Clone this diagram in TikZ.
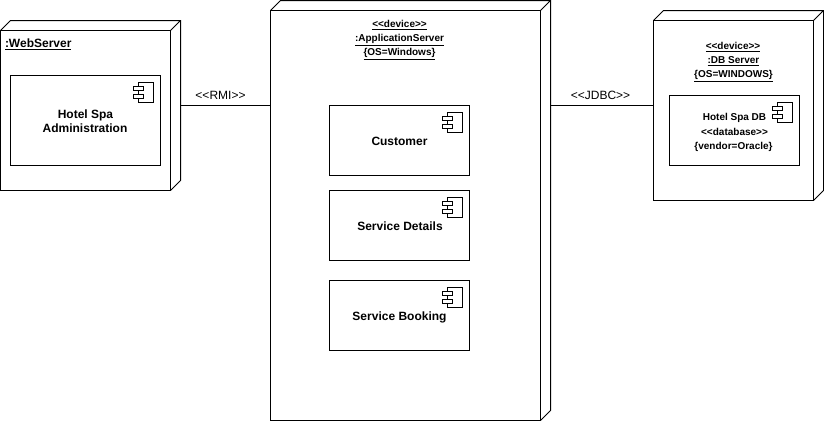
\documentclass[tikz,border=0pt]{standalone}
\usepackage{fontspec}
\setmainfont{Liberation Sans}
\newcommand{\gl}{<{}<}
\newcommand{\gr}{>{}>}
\tikzset{
  x=0.75pt,y=-0.75pt,
  every path/.style={line width=0.75pt},
  nodebox/.style={draw,fill=white,rectangle,inner sep=0pt,outer sep=0pt,line join=miter},
  compbox/.style={draw,rectangle,inner sep=0pt,outer sep=0pt},
  txt/.style={inner sep=0pt,outer sep=0pt,anchor=base,align=center,text=black},
  title/.style={txt,font=\fontsize{9}{12}\selectfont\bfseries},
  note/.style={txt,font=\fontsize{7.5}{9}\selectfont\bfseries},
  link/.style={txt,font=\fontsize{9}{12}\selectfont},
  pics/depth/.style args={#1/#2}{code={
    \draw (0,0) -- ++(10,-10) -- ++(#1,0) -- ++(0,#2) -- ++(-10,10)
          (#1,0) -- ++(10,-10);
  }},
  pics/icon/.style={code={
    \draw (5,0) rectangle (20,20);
    \draw[fill=white] (0,4) rectangle (10,8);
    \draw[fill=white] (0,12) rectangle (10,16);
  }}
}
\begin{document}
\begin{tikzpicture}
\useasboundingbox (0,0) rectangle (824,421);
\begin{scope}[shift={(-0.5,0.5)}]
% Web server
\node[nodebox,minimum width=127.5pt,minimum height=120pt] (web) at (86,110) {};
\pic at (1,30) {depth=170/160};
\node[compbox,minimum width=112.5pt,minimum height=67.5pt] (webc) at (86,120) {};
\pic at (134,82) {icon};
% Application server
\node[nodebox,minimum width=202.5pt,minimum height=307.5pt] (app) at (406,215) {};
\pic at (271,10) {depth=270/410};
\node[compbox,minimum width=105pt,minimum height=52.5pt] (cust) at (400,140) {};
\pic at (443,112) {icon};
\node[compbox,minimum width=105pt,minimum height=52.5pt] (serv) at (400,225) {};
\pic at (443,197) {icon};
\node[compbox,minimum width=105pt,minimum height=52.5pt] (book) at (400,315) {};
\pic at (443,287) {icon};
% DB server
\node[nodebox,minimum width=120pt,minimum height=135pt] (db) at (734,110) {};
\pic at (654,20) {depth=160/180};
\node[compbox,minimum width=97.5pt,minimum height=52.5pt] (dbc) at (735,130) {};
\pic at (773,102) {icon};
% Connectors
\coordinate (webport) at (181,105);
\coordinate (appport) at (551,105);
\draw (webport) -- (webport -| app.west);
\draw (appport) -- (appport -| db.west);
\end{scope}
% Texts
\node[title,anchor=base west] (webname) at (5,47) {\underline{:WebServer}};
\node[title] (webl1) at (85.5,118) {Hotel Spa};
\node[title] (webl2) at (85,132) {Administration};
\node[note] (appl1) at (399.5,27) {\underline{\gl device\gr}};
\node[note] (appl2) at (399.5,41) {\underline{:ApplicationServer}};
\node[note] (appl3) at (399.5,55) {\underline{\{OS=Windows\}}};
\node[title] (custl) at (399.5,145) {Customer};
\node[title] (servl) at (400,230) {Service Details};
\node[title] (bookl) at (399.5,320) {Service Booking};
\node[note] (dbl1) at (733,49) {\underline{\gl device\gr}};
\node[note] (dbl2) at (733.5,63) {\underline{:DB Server}};
\node[note] (dbl3) at (733.5,77) {\underline{\{OS=WINDOWS\}}};
\node[note] (dbc1) at (734.5,120) {Hotel Spa DB};
\node[note] (dbc2) at (734.5,135) {\gl database\gr};
\node[note] (dbc3) at (733.5,149) {\{vendor=Oracle\}};
\node[link] (rmi) at (220.5,99) {\gl RMI\gr};
\node[link] (jdbc) at (600.5,99) {\gl JDBC\gr};
\end{tikzpicture}
\end{document}
